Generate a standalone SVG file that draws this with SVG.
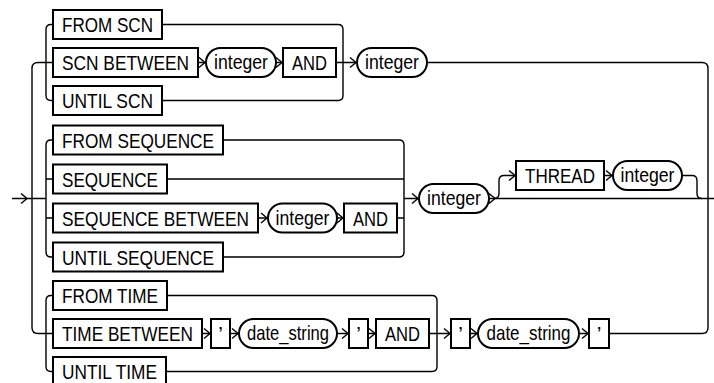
<svg xmlns="http://www.w3.org/2000/svg" xmlns:xlink="http://www.w3.org/1999/xlink" width="714" height="383" viewBox="0 0 714 383">
<style>
.box{fill:#fff;stroke:#000;stroke-width:2}
.ln{fill:none;stroke:#000;stroke-width:1.4}
text{font-family:"Liberation Sans",Arial,sans-serif;font-size:21px;fill:#000;text-anchor:middle}
</style>
<defs>
<path id="ch" d="M-7,-5 L-1,0 L-7,5" fill="none" stroke="#000" stroke-width="1.4"/>
</defs>
<rect width="714" height="383" fill="#fff"/>
<g id="connectors">
<path class="ln" d="M12,198.5 H46"/>
<use href="#ch" x="28" y="198.5"/>
<path class="ln" d="M53,62.5 H38 Q32,62.5 32,68.5 V327.5 Q32,333.5 38,333.5 H53"/>
<path class="ln" d="M53,24.5 H51 Q46,24.5 46,29.5 V95.5 Q46,100.5 51,100.5 H53"/>
<path class="ln" d="M162,24.5 H338 Q343,24.5 343,29.5 V95.5 Q343,100.5 338,100.5 H162"/>
<path class="ln" d="M198,62.5 H206 M276,62.5 H283 M336,62.5 H357"/>
<use href="#ch" x="206" y="62.5"/><use href="#ch" x="283" y="62.5"/><use href="#ch" x="357" y="62.5"/>
<path class="ln" d="M427,62.5 H702 Q708,62.5 708,68.5 V327.5 Q708,333.5 702,333.5 H609"/>
<path class="ln" d="M53,140 H51 Q46,140 46,145 V252 Q46,257 51,257 H53 M46,179 H53 M46,218 H53"/>
<path class="ln" d="M223,140 H399 Q404,140 404,145 V252 Q404,257 399,257 H223 M167,179 H404 M397,218 H404 M404,198.5 H419"/>
<path class="ln" d="M258,218 H268 M337,218 H344"/>
<use href="#ch" x="268" y="218"/><use href="#ch" x="344" y="218"/><use href="#ch" x="419" y="198.5"/>
<path class="ln" d="M489,198.5 H714"/>
<use href="#ch" x="496" y="198.5"/>
<path class="ln" d="M494,198.5 Q499,198.5 499,193.5 V180.5 Q499,175.5 504,175.5 H516 M604,175.5 H613 M682,175.5 H692 Q697,175.5 697,180.5 V193.5 Q697,198.5 702,198.5"/>
<use href="#ch" x="516" y="175.5"/><use href="#ch" x="613" y="175.5"/>
<path class="ln" d="M53,295.5 H51 Q46,295.5 46,300.5 V366.5 Q46,371.5 51,371.5 H53"/>
<path class="ln" d="M167,295.5 H432 Q437,295.5 437,300.5 V366.5 Q437,371.5 432,371.5 H166"/>
<path class="ln" d="M202,333.5 H211 M230,333.5 H239 M337,333.5 H349 M368,333.5 H376 M429,333.5 H451 M470,333.5 H478 M579,333.5 H589"/>
<use href="#ch" x="211" y="333.5"/><use href="#ch" x="239" y="333.5"/><use href="#ch" x="349" y="333.5"/><use href="#ch" x="376" y="333.5"/><use href="#ch" x="451" y="333.5"/><use href="#ch" x="478" y="333.5"/><use href="#ch" x="589" y="333.5"/>
</g>
<g id="n1"><rect class="box" x="53" y="10" width="109" height="29"/><text x="107.5" y="32" textLength="91" lengthAdjust="spacingAndGlyphs">FROM SCN</text></g>
<g id="n2"><rect class="box" x="53" y="48" width="145" height="29"/><text x="125.5" y="70" textLength="127" lengthAdjust="spacingAndGlyphs">SCN BETWEEN</text></g>
<g id="n3"><rect class="box" x="206" y="48" width="70" height="29" rx="14.5"/><text x="241" y="69" textLength="54" lengthAdjust="spacingAndGlyphs">integer</text></g>
<g id="n4"><rect class="box" x="283" y="48" width="53" height="29"/><text x="309.5" y="70" textLength="35" lengthAdjust="spacingAndGlyphs">AND</text></g>
<g id="n5"><rect class="box" x="53" y="86" width="109" height="29"/><text x="107.5" y="108" textLength="91" lengthAdjust="spacingAndGlyphs">UNTIL SCN</text></g>
<g id="n6"><rect class="box" x="357" y="48" width="70" height="29" rx="14.5"/><text x="392" y="69" textLength="54" lengthAdjust="spacingAndGlyphs">integer</text></g>
<g id="n7"><rect class="box" x="53" y="125.5" width="170" height="29"/><text x="138" y="147.5" textLength="152" lengthAdjust="spacingAndGlyphs">FROM SEQUENCE</text></g>
<g id="n8"><rect class="box" x="53" y="164.5" width="114" height="29"/><text x="110" y="186.5" textLength="96" lengthAdjust="spacingAndGlyphs">SEQUENCE</text></g>
<g id="n9"><rect class="box" x="53" y="203.5" width="205" height="29"/><text x="155.5" y="225.5" textLength="187" lengthAdjust="spacingAndGlyphs">SEQUENCE BETWEEN</text></g>
<g id="n10"><rect class="box" x="268" y="203.5" width="69" height="29" rx="14.5"/><text x="302.5" y="224.5" textLength="54" lengthAdjust="spacingAndGlyphs">integer</text></g>
<g id="n11"><rect class="box" x="344" y="203.5" width="53" height="29"/><text x="370.5" y="225.5" textLength="35" lengthAdjust="spacingAndGlyphs">AND</text></g>
<g id="n12"><rect class="box" x="53" y="242.5" width="170" height="29"/><text x="138" y="264.5" textLength="152" lengthAdjust="spacingAndGlyphs">UNTIL SEQUENCE</text></g>
<g id="n13"><rect class="box" x="419" y="184" width="70" height="29" rx="14.5"/><text x="454" y="205" textLength="54" lengthAdjust="spacingAndGlyphs">integer</text></g>
<g id="n14"><rect class="box" x="516" y="161" width="88" height="29"/><text x="560" y="183" textLength="70" lengthAdjust="spacingAndGlyphs">THREAD</text></g>
<g id="n15"><rect class="box" x="613" y="161" width="69" height="29" rx="14.5"/><text x="647.5" y="182" textLength="54" lengthAdjust="spacingAndGlyphs">integer</text></g>
<g id="n16"><rect class="box" x="53" y="281" width="114" height="29"/><text x="110" y="303" textLength="96" lengthAdjust="spacingAndGlyphs">FROM TIME</text></g>
<g id="n17"><rect class="box" x="53" y="319" width="149" height="29"/><text x="127.5" y="341" textLength="131" lengthAdjust="spacingAndGlyphs">TIME BETWEEN</text></g>
<g id="n18"><rect class="box" x="211" y="319" width="19" height="29"/><text x="220.5" y="341">’</text></g>
<g id="n19"><rect class="box" x="239" y="319" width="98" height="29" rx="14.5"/><text x="288" y="340" textLength="82" lengthAdjust="spacingAndGlyphs">date_string</text></g>
<g id="n20"><rect class="box" x="349" y="319" width="19" height="29"/><text x="358.5" y="341">’</text></g>
<g id="n21"><rect class="box" x="376" y="319" width="53" height="29"/><text x="402.5" y="341" textLength="35" lengthAdjust="spacingAndGlyphs">AND</text></g>
<g id="n22"><rect class="box" x="53" y="357" width="113" height="29"/><text x="109.5" y="379" textLength="95" lengthAdjust="spacingAndGlyphs">UNTIL TIME</text></g>
<g id="n23"><rect class="box" x="451" y="319" width="19" height="29"/><text x="460.5" y="341">’</text></g>
<g id="n24"><rect class="box" x="478" y="319" width="101" height="29" rx="14.5"/><text x="528.5" y="340" textLength="84" lengthAdjust="spacingAndGlyphs">date_string</text></g>
<g id="n25"><rect class="box" x="589" y="319" width="20" height="29"/><text x="599" y="341">’</text></g>
</svg>
